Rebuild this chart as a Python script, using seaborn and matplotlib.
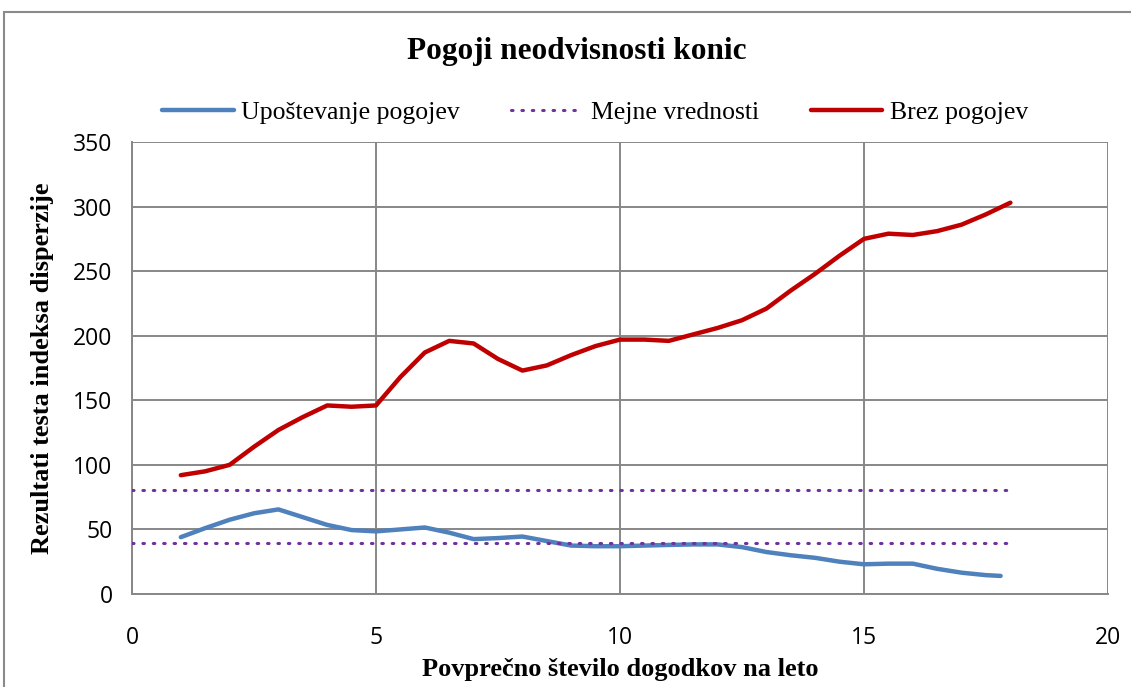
import matplotlib
matplotlib.use("Agg")
import matplotlib.pyplot as plt
from matplotlib.lines import Line2D
from matplotlib.patches import Rectangle
import seaborn as sns
import pandas as pd

# values (half-step positions)
x_red = [1, 1.5, 2, 2.5, 3, 3.5, 4, 4.5, 5, 5.5, 6, 6.5, 7, 7.5, 8, 8.5, 9, 9.5,
         10, 10.5, 11, 11.5, 12, 12.5, 13, 13.5, 14, 14.5, 15, 15.5, 16, 16.5, 17, 17.5, 18]
brez = [92, 95, 100, 114, 127, 137, 146, 145, 146, 168, 187, 196, 194, 182, 173, 177, 185, 192,
        197, 197, 196, 201, 206, 212, 221, 235, 248, 262, 275, 279, 278, 281, 286, 294, 303]

x_blue = [1, 1.5, 2, 2.5, 3, 3.5, 4, 4.5, 5, 5.5, 6, 6.5, 7, 7.5, 8, 8.5, 9, 9.5,
          10, 10.5, 11, 11.5, 12, 12.5, 13, 13.5, 14, 14.5, 15, 15.5, 16, 16.5, 17, 17.5, 17.8]
upostevanje = [44, 51, 57.5, 62.5, 65.5, 59.5, 53.5, 49.5, 48.5, 50, 51.5, 47.5, 42.5, 43.3, 44.5, 41, 37.5, 37,
               37, 37.5, 38, 38.4, 38.4, 36.3, 32.5, 30, 28, 25, 23, 23.5, 23.5, 19.5, 16.5, 14.6, 14]

x_limits = [0, 18]
meja_zgornja = [80.5, 80.5]
meja_spodnja = [39.4, 39.4]

labels = ["Upoštevanje pogojev", "Mejne vrednosti", "Brez pogojev"]

blue = "#4F81BD"
red = "#C00000"
purple = "#7030A0"
grid_c = "#878787"

sns.set_style("white")
plt.rcParams["font.family"] = ["Liberation Serif", "DejaVu Serif"]
plt.rcParams["text.color"] = "black"
plt.rcParams["axes.labelcolor"] = "black"
plt.rcParams["xtick.labelcolor"] = "black"
plt.rcParams["ytick.labelcolor"] = "black"

fig = plt.figure(figsize=(11.31, 6.87), dpi=100)
ax = fig.add_axes([132 / 1131, 93 / 687, 976 / 1131, 452 / 687])

df_blue = pd.DataFrame({"x": x_blue, "y": upostevanje})
df_red = pd.DataFrame({"x": x_red, "y": brez})

dots = (0, (0.5, 2.9))
sns.lineplot(data=df_blue, x="x", y="y", color=blue, lw=3.2, ax=ax, zorder=3)
sns.lineplot(x=x_limits, y=meja_zgornja, color=purple, lw=2.2, ax=ax, zorder=3,
             linestyle=dots, dash_capstyle="round")
sns.lineplot(x=x_limits, y=meja_spodnja, color=purple, lw=2.2, ax=ax, zorder=3,
             linestyle=dots, dash_capstyle="round")
sns.lineplot(data=df_red, x="x", y="y", color=red, lw=3.2, ax=ax, zorder=4)

ax.set_xlim(0, 20)
ax.set_ylim(0, 350)
ax.set_xticks([0, 5, 10, 15, 20])
ax.set_yticks(range(0, 351, 50))
ax.grid(True, color=grid_c, lw=1.4)
for s in ["top", "right"]:
    ax.spines[s].set_visible(False)
for s in ["left", "bottom"]:
    ax.spines[s].set_color(grid_c)
    ax.spines[s].set_linewidth(1.4)
ax.tick_params(axis="both", direction="out", length=6, width=1.2, color=grid_c,
               labelsize=16.5, pad=8)
ax.tick_params(axis="x", pad=17)
for t in ax.get_xticklabels() + ax.get_yticklabels():
    t.set_family(["Open Sans", "DejaVu Sans"])

ax.set_xlabel("Povprečno število dogodkov na leto", fontsize=19, fontweight="bold", labelpad=6)
ax.set_ylabel("Rezultati testa indeksa disperzije", fontsize=19, fontweight="bold", labelpad=14)

fig.text(577 / 1131, 1 - 52 / 687, "Pogoji neodvisnosti konic", fontsize=22.5,
         fontweight="bold", ha="center", va="center")

handles = [Line2D([], [], color=blue, lw=3.2),
           Line2D([], [], color=purple, lw=2.2, linestyle=dots, dash_capstyle="round"),
           Line2D([], [], color=red, lw=3.2)]
fig.legend(handles, labels, loc="center", bbox_to_anchor=(595 / 1131, 1 - 113 / 687),
           ncol=3, frameon=False, fontsize=18.5, handlelength=2.8, handletextpad=0.3,
           columnspacing=2.0)

fig.patches.append(Rectangle((4 / 1131, -0.1), 1.2, 1.1 - 12 / 687, transform=fig.transFigure,
                             fill=False, edgecolor="#8a8a8a", lw=1.5))

fig.savefig("out.png", dpi=100)
